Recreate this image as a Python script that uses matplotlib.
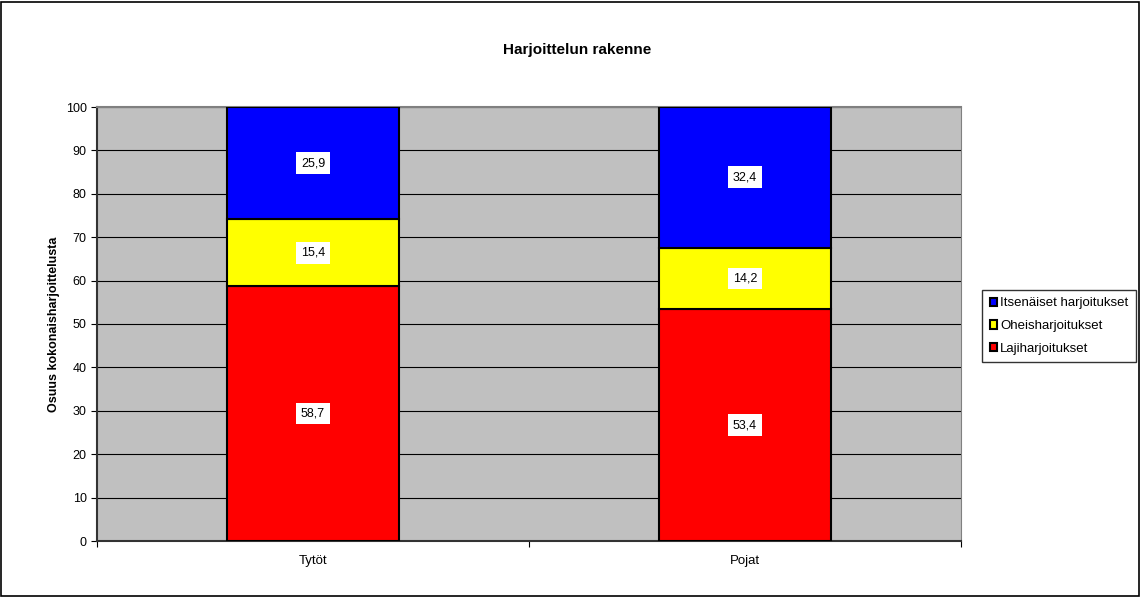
import matplotlib.pyplot as plt
from matplotlib.patches import Rectangle
import numpy as np

plt.rcParams['font.family'] = ['Liberation Sans', 'DejaVu Sans']

groups = ['Tytöt', 'Pojat']
series = ['Lajiharjoitukset', 'Oheisharjoitukset', 'Itsenäiset harjoitukset']
laji = [58.7, 53.4]
ohei = [15.4, 14.2]
itse = [25.9, 32.4]
colors = ['#ff0000', '#ffff00', '#0000ff']

fig = plt.figure(figsize=(11.41, 5.97), dpi=100)
ax = fig.add_axes([97 / 1141, 56 / 597, 864 / 1141, 434 / 597])
ax.set_facecolor('#c0c0c0')

x = np.arange(len(groups))
bottom = np.zeros(len(groups))
handles = []
for name, vals, col in zip(series, [laji, ohei, itse], colors):
    bars = ax.bar(x, vals, width=0.4, bottom=bottom, color=col,
                  edgecolor='black', linewidth=1.5, label=name, zorder=3)
    handles.append(bars)
    for xi, v, b in zip(x, vals, bottom):
        ax.text(xi, b + v / 2, f"{v:.1f}".replace('.', ','), ha='center', va='center',
                fontsize=9, zorder=4,
                bbox=dict(facecolor='white', edgecolor='none', pad=3.5))
    bottom += np.array(vals)

ax.set_xlim(-0.5, 1.5)
ax.set_ylim(0, 100)
ax.set_yticks(range(0, 101, 10))
ax.yaxis.grid(True, color='black', linewidth=0.8, zorder=1)
ax.set_axisbelow(True)
ax.tick_params(axis='y', labelsize=9, length=4, width=0.8)

ax.set_xticks([-0.5, 0.5, 1.5])
ax.set_xticklabels([])
ax.set_xticks(x, minor=True)
ax.set_xticklabels(groups, minor=True)
ax.tick_params(axis='x', which='major', length=4, width=0.8)
ax.tick_params(axis='x', which='minor', length=0, labelsize=9.5, pad=10)

for s in ['left', 'bottom']:
    ax.spines[s].set_color('#333333')
    ax.spines[s].set_linewidth(1.5)
ax.spines['top'].set_color('#808080')
ax.spines['top'].set_linewidth(1.5)
ax.spines['right'].set_color('#808080')

ax.set_ylabel('Osuus kokonaisharjoittelusta', fontsize=9, fontweight='bold', labelpad=4)
fig.text(577 / 1141, 1 - 50 / 597, 'Harjoittelun rakenne', ha='center', va='center',
         fontsize=11, fontweight='bold')

leg = fig.legend(handles[::-1], series[::-1], loc='center left',
                 bbox_to_anchor=(975 / 1141, 1 - 326 / 597), fontsize=9.5,
                 frameon=True, fancybox=False, edgecolor='black',
                 handlelength=0.6, handleheight=0.6, handletextpad=0.2,
                 borderpad=0.6, labelspacing=0.8)
leg.get_frame().set_linewidth(1.0)

fig.patches.append(Rectangle((1 / 1141, 1 / 597), 1138 / 1141, 594 / 597,
                             transform=fig.transFigure, fill=False,
                             edgecolor='black', linewidth=1.2))

fig.savefig('out.png', dpi=100)
